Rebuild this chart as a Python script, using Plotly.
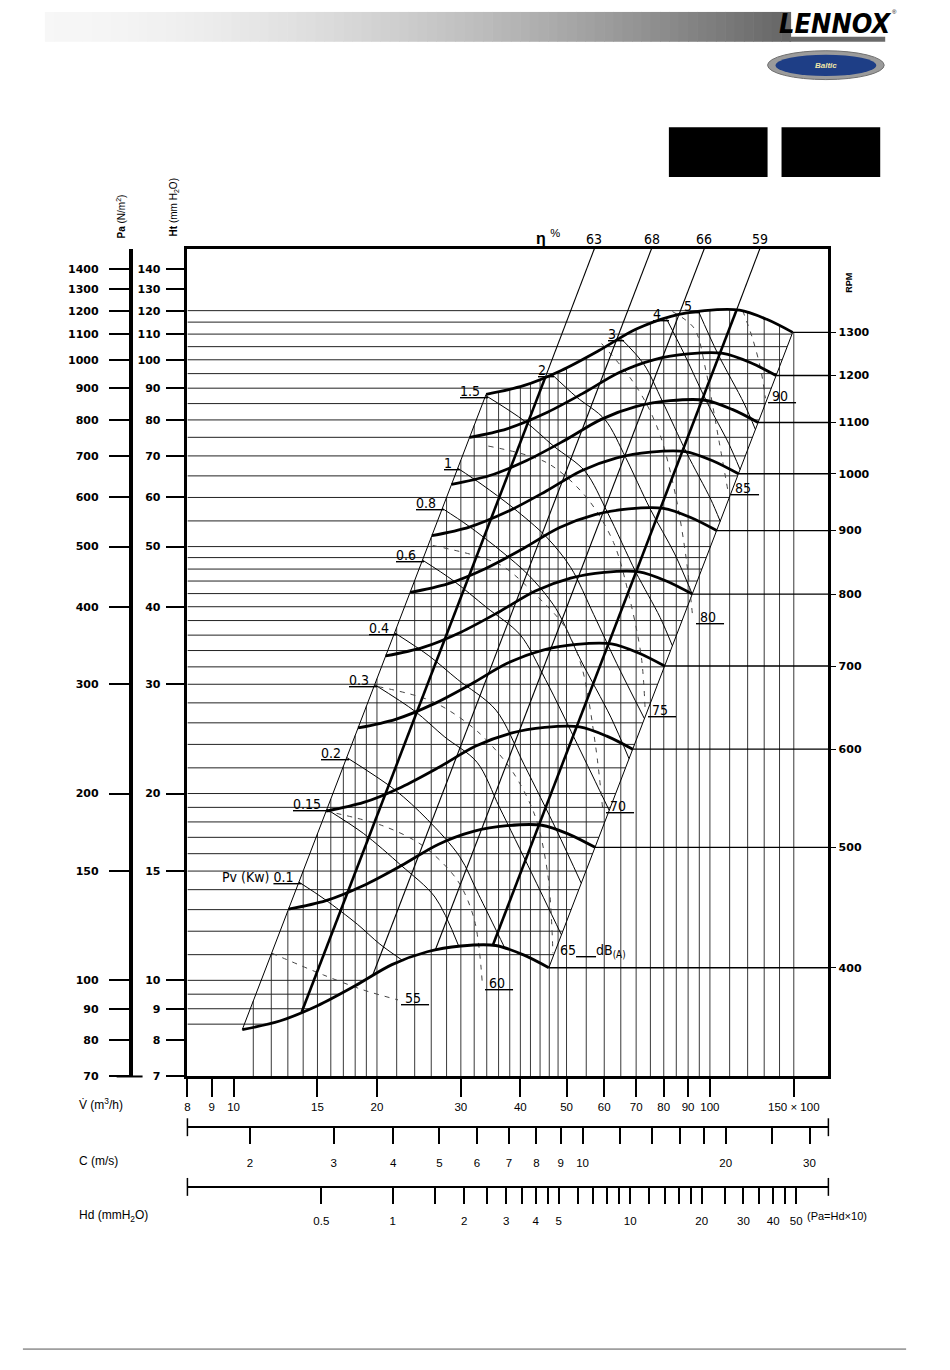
import numpy as np
import plotly.graph_objects as go

# fan curves (V in 100 m3/h, Ht in mm H2O), one list per speed
RPM = [400, 500, 600, 700, 800, 900, 1000, 1100, 1200, 1300]
FAN_V = [
    [10.43, 12.5, 15.0, 18.0, 21.5, 25.5, 30.0, 35.5, 40.5, 45.9],
    [13.04, 15.63, 18.75, 22.5, 26.88, 31.88, 37.5, 44.38, 50.63, 57.38],
    [15.65, 18.75, 22.5, 27.0, 32.25, 38.25, 45.0, 53.25, 60.75, 68.85],
    [18.25, 21.88, 26.25, 31.5, 37.63, 44.63, 52.5, 62.13, 70.88, 80.33],
    [20.86, 25.0, 30.0, 36.0, 43.0, 51.0, 60.0, 71.0, 81.0, 91.8],
    [23.47, 28.13, 33.75, 40.5, 48.38, 57.38, 67.5, 79.88, 91.13, 103.3],
    [26.08, 31.25, 37.5, 45.0, 53.75, 63.75, 75.0, 88.75, 101.3, 114.8],
    [28.68, 34.38, 41.25, 49.5, 59.13, 70.13, 82.5, 97.63, 111.4, 126.2],
    [31.29, 37.5, 45.0, 54.0, 64.5, 76.5, 90.0, 106.5, 121.5, 137.7],
    [33.9, 40.63, 48.75, 58.5, 69.88, 82.88, 97.5, 115.4, 131.6, 149.2],
]
FAN_H = [
    [8.33, 8.6, 9.1, 9.8, 10.6, 11.12, 11.36, 11.38, 11.0, 10.48],
    [13.02, 13.44, 14.22, 15.31, 16.56, 17.38, 17.75, 17.78, 17.19, 16.38],
    [18.74, 19.35, 20.48, 22.05, 23.85, 25.02, 25.56, 25.61, 24.75, 23.58],
    [25.51, 26.34, 27.87, 30.01, 32.46, 34.06, 34.79, 34.85, 33.69, 32.1],
    [33.32, 34.4, 36.4, 39.2, 42.4, 44.48, 45.44, 45.52, 44.0, 41.92],
    [42.17, 43.54, 46.07, 49.61, 53.66, 56.29, 57.51, 57.61, 55.69, 53.06],
    [52.06, 53.75, 56.88, 61.25, 66.25, 69.5, 71.0, 71.13, 68.75, 65.5],
    [63.0, 65.04, 68.82, 74.11, 80.16, 84.1, 85.91, 86.06, 83.19, 79.26],
    [74.97, 77.4, 81.9, 88.2, 95.4, 100.1, 102.2, 102.4, 99.0, 94.32],
    [87.99, 90.84, 96.12, 103.5, 111.96, 117.5, 120.0, 120.2, 116.2, 110.7],
]

# efficiency lines: bottom curve, top curve, chart top
ETA = [63, 68, 66, 59]
ETA_V = [[13.9, 45.1, 57.2], [19.6, 63.5, 75.4], [26.5, 86.0, 97.3], [35.0, 113.7, 127.3]]
ETA_H = [[8.89, 93.6, 151], [10.2, 107.0, 151], [11.18, 118.0, 151], [11.38, 120.2, 151]]

# absorbed power lines Pv (kW)
PV = ["0.1", "0.15", "0.2", "0.3", "0.4", "0.6", "0.8", "1", "1.5", "2", "3", "4", "5"]
PV_V = [
    [13.71, 15.53, 18.2, 20.28, 22.7],
    [15.7, 18.73, 22.5, 26.47, 29.7],
    [17.28, 21.82, 25.49, 29.83, 32.7, 37.2],
    [19.78, 24.05, 27.68, 32.44, 36.15, 42.22, 48.78],
    [21.78, 25.7, 29.48, 35.54, 40.75, 47.64, 53.69],
    [24.92, 28.87, 34.01, 39.98, 45.18, 53.11, 61.45],
    [27.43, 31.05, 36.39, 41.75, 47.48, 53.53, 61.95, 67.64],
    [29.55, 33.24, 38.7, 45.38, 51.07, 57.0, 63.7, 72.86],
    [33.82, 40.89, 46.97, 54.68, 61.02, 69.86, 78.6, 83.41],
    [46.64, 52.38, 60.23, 66.5, 74.86, 84.34, 91.8],
    [65.26, 72.69, 79.45, 89.35, 100.4, 105.1],
    [81.15, 88.32, 98.42, 109.5, 115.7],
    [94.54, 103.8, 118.0, 124.6],
]
PV_H = [
    [14.4, 13.51, 12.31, 11.44, 10.75],
    [18.86, 17.25, 15.31, 13.62, 11.35],
    [22.86, 20.27, 18.18, 15.83, 13.74, 11.23],
    [29.95, 27.13, 24.71, 22.46, 19.01, 14.9, 11.84],
    [36.31, 33.35, 30.57, 27.26, 22.25, 17.46, 14.34],
    [47.56, 44.11, 39.86, 36.03, 30.52, 23.7, 18.79],
    [57.6, 54.06, 49.22, 44.88, 39.74, 32.84, 26.55, 22.76],
    [66.87, 62.92, 57.66, 51.81, 46.23, 38.88, 32.43, 26.41],
    [87.58, 79.59, 72.6, 66.13, 56.65, 45.52, 38.44, 34.6],
    [94.66, 87.2, 80.06, 69.66, 57.57, 48.66, 41.92],
    [107.9, 98.32, 85.77, 70.81, 59.59, 54.93],
    [116.25, 102.17, 85.67, 73.31, 66.54],
    [119.9, 102.4, 84.98, 77.22],
]

# noise lines dB(A)
DB = [55, 60, 65, 70, 75, 80, 85, 90]
DB_V = [
    [12.03, 15.45, 18.72, 22.14],
    [15.59, 20.6, 24.96, 29.53, 32.04, 33.3],
    [20.11, 26.19, 32.5, 38.46, 42.94, 45.71, 46.82],
    [26.19, 36.13, 42.94, 49.6, 53.8, 57.55, 59.52],
    [34.26, 45.49, 55.12, 62.76, 67.74, 71.77, 73.16],
    [59.24, 67.42, 73.5, 79.0, 84.9, 89.1, 92.1],
    [83.45, 92.75, 98.06, 104.4, 109.0],
    [117.2, 122.9, 127.7, 130.8],
]
DB_H = [
    [11.06, 10.2, 9.65, 9.3],
    [18.75, 17.74, 16.48, 14.48, 12.5, 9.83],
    [29.74, 28.13, 25.19, 21.73, 18.41, 14.75, 11.06],
    [50.2, 46.81, 41.9, 37.11, 32.02, 23.84, 18.96],
    [72.6, 68.23, 59.96, 50.77, 41.46, 33.22, 27.02],
    [106.2, 94.4, 85.1, 74.8, 59.96, 48.05, 38.2],
    [119.6, 112.3, 96.1, 74.26, 61.75],
    [120.0, 108.2, 96.9, 86.7],
]

# chart grid
GRID_V = [11, 12, 13, 14, 15, 16, 17, 18, 19, 20, 22, 24, 26, 28, 30, 32, 34, 36, 38, 40,
          42, 44, 46, 48, 50, 55, 60, 65, 70, 75, 80, 85, 90, 95, 100, 110, 120, 130, 140, 150]
GRID_H = [8.5, 9, 9.5, 10, 11, 12, 13, 14, 15, 16, 17, 18, 19, 20, 22, 24, 26, 28, 30, 32,
          34, 36, 38, 40, 42, 44, 46, 48, 50, 55, 60, 65, 70, 75, 80, 85, 90, 95, 100, 105,
          110, 115, 120]

# axes
V_RANGE = [8, 177.3]
HT_RANGE = [7, 151]
PA_RANGE = [70, 1510]
C_RANGE = [1.477, 32.87]
HD_RANGE = [0.1364, 68.34]
V_TICKS = [8, 9, 10, 15, 20, 30, 40, 50, 60, 70, 80, 90, 100, 150]
V_TEXT = ["8", "9", "10", "15", "20", "30", "40", "50", "60", "70", "80", "90", "100", "150 × 100"]
HT_TICKS = [7, 8, 9, 10, 15, 20, 30, 40, 50, 60, 70, 80, 90, 100, 110, 120, 130, 140]
PA_TICKS = [70, 80, 90, 100, 150, 200, 300, 400, 500, 600, 700, 800, 900, 1000, 1100, 1200, 1300, 1400]
C_TICKS = [2, 3, 4, 5, 6, 7, 8, 9, 10, 12, 14, 16, 18, 20, 25, 30]
C_LABELED = [2, 3, 4, 5, 6, 7, 8, 9, 10, 20, 30]
HD_TICKS = [0.5, 1, 1.5, 2, 2.5, 3, 3.5, 4, 4.5, 5, 6, 7, 8, 9, 10, 12, 14, 16, 18, 20,
            25, 30, 35, 40, 45, 50]
HD_LABELED = [0.5, 1, 2, 3, 4, 5, 10, 20, 30, 40, 50]

W, H = 950, 1370
X_LEFT, X_RIGHT, Y_TOP, Y_BOTTOM = 185, 828, 250, 1082
FONT = "Liberation Sans, Arial, sans-serif"
WIDE = "DejaVu Sans, Verdana, sans-serif"
NARROW = "Liberation Sans Narrow, DejaVu Sans Condensed, Liberation Sans, sans-serif"


def px(x):
    return x / W


def py(y):
    return 1 - y / H


def lg(a):
    return np.log10(np.asarray(a, dtype=float))


# region boundaries used to clip the grid lines
bot_v, bot_h = lg(FAN_V[0]), lg(FAN_H[0])
top_v, top_h = lg(FAN_V[-1]), lg(FAN_H[-1])
left_v, left_h = lg([FAN_V[0][0], FAN_V[-1][0]]), lg([FAN_H[0][0], FAN_H[-1][0]])
right_v, right_h = lg([FAN_V[0][-1], FAN_V[-1][-1]]), lg([FAN_H[0][-1], FAN_H[-1][-1]])
k_bot = int(np.argmax(FAN_H[0])) + 1
k_top = int(np.argmax(FAN_H[-1])) + 1


def grid_top(v):
    x = np.log10(v)
    if x <= left_v[1]:
        return 10 ** np.interp(x, left_v, left_h)
    return 10 ** np.interp(x, top_v, top_h)


def grid_end(h):
    y = np.log10(h)
    if y <= right_h[0]:
        return 10 ** np.interp(y, bot_h[:k_bot], bot_v[:k_bot])
    if y <= right_h[1]:
        return 10 ** np.interp(y, right_h, right_v)
    return 10 ** np.interp(y, top_h[:k_top], top_v[:k_top])


fig = go.Figure()


def add_line(xs, ys, width=1.0, color="black", dash=None, shape="linear", **kw):
    fig.add_trace(go.Scatter(
        x=xs, y=ys, mode="lines", hoverinfo="skip", showlegend=False,
        line=dict(width=width, color=color, dash=dash, shape=shape, smoothing=0.9), **kw))


# grid
gx, gy = [], []
for v in GRID_V:
    gx += [v, v, None]
    gy += [HT_RANGE[0], grid_top(v), None]
add_line(gx, gy, width=0.9, color="#222")
gx, gy = [], []
for h in GRID_H:
    gx += [V_RANGE[0], grid_end(h), None]
    gy += [h, h, None]
add_line(gx, gy, width=1.0, color="#222")

# region edges
add_line([FAN_V[0][0], FAN_V[-1][0]], [FAN_H[0][0], FAN_H[-1][0]], width=1)
add_line([FAN_V[0][-1], FAN_V[-1][-1]], [FAN_H[0][-1], FAN_H[-1][-1]], width=1)

# power lines
for vs, hs in zip(PV_V, PV_H):
    add_line(vs, hs, width=1, shape="spline")

# noise lines
for vs, hs in zip(DB_V, DB_H):
    add_line(vs, hs, width=1, color="#444", dash="5px,6px", shape="spline")

# efficiency lines
for lab, vs, hs in zip(ETA, ETA_V, ETA_H):
    add_line(vs[:2], hs[:2], width=2.6 if lab in (63, 59) else 1.1)
    add_line(vs[1:], hs[1:], width=1.1)

# speed lines to the rpm scale
for vs, hs in zip(FAN_V, FAN_H):
    add_line([vs[-1], V_RANGE[1] * 1.2], [hs[-1], hs[-1]], width=1.4)

# fan curves
for vs, hs in zip(FAN_V, FAN_H):
    add_line(vs, hs, width=2.8, shape="spline")

# dummy traces so the extra scales are drawn
fig.add_trace(go.Scatter(x=[None], y=[None], xaxis="x", yaxis="y2", showlegend=False))
fig.add_trace(go.Scatter(x=[None], y=[None], xaxis="x", yaxis="y3", showlegend=False))
fig.add_trace(go.Scatter(x=[None], y=[None], xaxis="x2", yaxis="y", showlegend=False))
fig.add_trace(go.Scatter(x=[None], y=[None], xaxis="x3", yaxis="y", showlegend=False))

ann = []
lab_font = dict(family=NARROW, size=14, color="black")

for lab, vs, hs in zip(ETA, ETA_V, ETA_H):
    ann.append(dict(x=np.log10(vs[-1]), y=np.log10(hs[-1]), xref="x", yref="y", text=str(lab),
                    showarrow=False, xanchor="center", yanchor="bottom", font=lab_font))
ann.append(dict(x=np.log10(ETA_V[0][-1]), y=np.log10(ETA_H[0][-1]), xref="x", yref="y",
                text="<b>η</b> <sup>%</sup>", showarrow=False, xanchor="center",
                yanchor="bottom", xshift=-46, font=dict(family=FONT, size=16, color="black")))

for i, (lab, vs, hs) in enumerate(zip(PV, PV_V, PV_H)):
    txt = "<u>" + lab + "\u00a0\u00a0</u>"
    if i == 0:
        txt = "Pv (Kw)\u00a0" + txt
    ann.append(dict(x=np.log10(vs[0]), y=np.log10(hs[0]), xref="x", yref="y", text=txt,
                    showarrow=False, xanchor="right", yanchor="bottom", xshift=4, yshift=-5,
                    font=lab_font))

for lab, vs, hs in zip(DB, DB_V, DB_H):
    txt = "<u>\u00a0" + str(lab) + "\u00a0\u00a0</u>"
    if lab == 65:
        txt = "\u00a0" + str(lab) + "<u>\u00a0\u00a0\u00a0\u00a0\u00a0</u>dB<sub>(A)</sub>"
    ann.append(dict(x=np.log10(vs[-1]), y=np.log10(hs[-1]), xref="x", yref="y", text=txt,
                    showarrow=False, xanchor="left", yanchor="middle", xshift=1, yshift=2,
                    font=lab_font))


def paper_text(x, y, text, size=11, family=FONT, color="black", angle=0, xanchor="center"):
    return dict(x=px(x), y=py(y), xref="paper", yref="paper", text=text, textangle=angle,
                showarrow=False, xanchor=xanchor, yanchor="middle",
                font=dict(family=family, size=size, color=color))


ann += [
    paper_text(118, 218, "<b>Pa</b> (N/m<sup>2</sup>)", size=10, angle=-90),
    paper_text(171, 208, "<b>Ht</b> (mm H<sub>2</sub>O)", size=10, angle=-90),
    paper_text(848, 284, "<b>RPM</b>", size=9, angle=-90),
    paper_text(74, 1110, "V\u0307 (m<sup>3</sup>/h)", size=12, xanchor="left"),
    paper_text(74, 1167, "C (m/s)", size=12, xanchor="left"),
    paper_text(74, 1222, "Hd (mmH<sub>2</sub>O)", size=12, xanchor="left"),
    paper_text(805, 1222, "(Pa=Hd×10)", size=11, xanchor="left"),
    paper_text(835, 24, "<b><i>LENNOX</i></b>", size=27, family=NARROW),
    paper_text(894, 12, "®", size=6),
    paper_text(826, 66, "<b><i>Baltic</i></b>", size=8, color="#f0e6a8"),
]

shapes = []
n_strip = 80
x0s, x1s = 42, 790
for i in range(n_strip):
    t = i / (n_strip - 1)
    g = int(247 - 145 * t ** 1.7)
    shapes.append(dict(type="rect", xref="paper", yref="paper",
                       x0=px(x0s + i * (x1s - x0s) / n_strip),
                       x1=px(x0s + (i + 1) * (x1s - x0s) / n_strip + 0.6),
                       y0=py(42), y1=py(12), fillcolor=f"rgb({g},{g},{g})", line_width=0))
shapes += [
    dict(type="rect", xref="paper", yref="paper", x0=px(789), x1=px(885), y0=py(42), y1=py(37),
         fillcolor="#6a6a6a", line_width=0),
    dict(type="circle", xref="paper", yref="paper", x0=px(767), x1=px(884), y0=py(80), y1=py(51),
         fillcolor="#9b9b9b", line=dict(color="#707070", width=1)),
    dict(type="circle", xref="paper", yref="paper", x0=px(775), x1=px(876), y0=py(76.5), y1=py(55),
         fillcolor="#1e3e86", line_width=0),
    dict(type="rect", xref="paper", yref="paper", x0=px(668), x1=px(767), y0=py(178), y1=py(128),
         fillcolor="black", line_width=0),
    dict(type="rect", xref="paper", yref="paper", x0=px(781), x1=px(880), y0=py(178), y1=py(128),
         fillcolor="black", line_width=0),
    dict(type="line", xref="paper", yref="paper", x0=px(20), x1=px(906), y0=py(1356), y1=py(1356),
         line=dict(color="#555", width=1)),
    # foot of the Pa scale
    dict(type="line", xref="paper", yref="paper", x0=px(114), x1=px(140), y0=py(Y_BOTTOM),
         y1=py(Y_BOTTOM), line=dict(color="black", width=2)),
]
for yl in (1133, 1193):
    for xl in (X_LEFT, X_RIGHT):
        shapes.append(dict(type="line", xref="paper", yref="paper", x0=px(xl), x1=px(xl),
                           y0=py(yl - 9), y1=py(yl + 9), line=dict(color="black", width=1.5)))

base_axis = dict(type="log", showgrid=False, zeroline=False, ticks="outside",
                 tickcolor="black", linecolor="black")
scale_font = dict(family=WIDE, size=11, color="black", weight="bold")
bottom_font = dict(family=FONT, size=11.5, color="black")

fig.update_layout(
    width=W, height=H, margin=dict(l=0, r=0, t=0, b=0),
    paper_bgcolor="white", plot_bgcolor="white", showlegend=False,
    xaxis=dict(base_axis, range=lg(V_RANGE).tolist(), domain=[px(X_LEFT), px(X_RIGHT)],
               anchor="y", tickvals=V_TICKS, ticktext=V_TEXT, ticklen=18, tickwidth=1.5,
               showline=True, linewidth=2.5, mirror=True, tickfont=bottom_font),
    yaxis=dict(base_axis, range=lg(HT_RANGE).tolist(), domain=[py(Y_BOTTOM), py(Y_TOP)],
               anchor="x", tickvals=HT_TICKS, ticktext=[str(t) for t in HT_TICKS], ticklen=19,
               tickwidth=1.5, showline=True, linewidth=2.5, mirror=True,
               ticklabelstandoff=3, tickfont=scale_font),
    yaxis2=dict(base_axis, range=lg(PA_RANGE).tolist(), overlaying="y", anchor="free",
                position=px(128), side="left", tickvals=PA_TICKS,
                ticktext=[str(t) for t in PA_TICKS], ticklen=20, tickwidth=1.8,
                showline=True, linewidth=3.5, ticklabelstandoff=8, tickfont=scale_font),
    yaxis3=dict(base_axis, overlaying="y", anchor="x", side="right",
                range=lg([RPM[0] * np.sqrt(HT_RANGE[0] / FAN_H[0][-1]),
                          RPM[0] * np.sqrt(HT_RANGE[1] / FAN_H[0][-1])]).tolist(),
                tickvals=RPM, ticktext=[str(r) for r in RPM], ticklen=7, tickwidth=1.4,
                showline=False, tickfont=scale_font),
    xaxis2=dict(base_axis, range=lg(C_RANGE).tolist(), overlaying="x", anchor="free",
                position=py(1133), side="bottom", tickvals=C_TICKS,
                ticktext=[str(t) if t in C_LABELED else "" for t in C_TICKS],
                ticklen=16, tickwidth=1.5, showline=True, linewidth=1.5,
                ticklabelstandoff=9, tickfont=bottom_font),
    xaxis3=dict(base_axis, range=lg(HD_RANGE).tolist(), overlaying="x", anchor="free",
                position=py(1193), side="bottom", tickvals=HD_TICKS,
                ticktext=[str(t) if t in HD_LABELED else "" for t in HD_TICKS],
                ticklen=16, tickwidth=1.5, showline=True, linewidth=1.5,
                ticklabelstandoff=8, tickfont=bottom_font),
    annotations=ann,
    shapes=shapes,
)

fig.write_html("out.html", config={"displayModeBar": False},
               post_script="document.body.style.margin='0px';")
